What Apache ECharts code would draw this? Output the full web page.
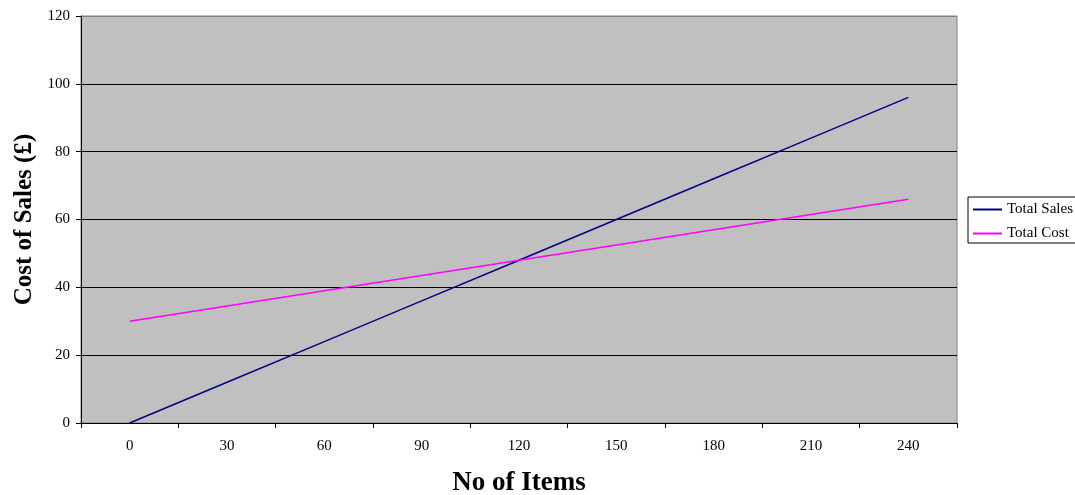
<!DOCTYPE html>
<html>
<head>
<meta charset="utf-8">
<script src="https://cdn.jsdelivr.net/npm/echarts@6/dist/echarts.min.js"></script>
<style>html,body{margin:0;padding:0;background:#fff}#c{width:1075px;height:495px}</style>
</head>
<body>
<div id="c"></div>
<script>
const items = ['0','30','60','90','120','150','180','210','240'];
const totalSales = [0,12,24,36,48,60,72,84,96];
const totalCost = [30,34.5,39,43.5,48,52.5,57,61.5,66];
const yTicks = [0,20,40,60,80,100,120];

const font = '"Liberation Serif","Times New Roman",serif';
const chart = echarts.init(document.getElementById('c'), null, {renderer:'canvas'});
chart.setOption({
  animation:false,
  backgroundColor:'#ffffff',
  grid:{left:81,right:118,top:16,bottom:72,containLabel:false,outerBoundsMode:'none',show:true,backgroundColor:'#c0c0c0',borderColor:'#808080',borderWidth:1},
  legend:{
    orient:'vertical', left:968, top:197,
    borderColor:'#000', borderWidth:1, padding:[5,20,2,5],
    itemWidth:29, itemHeight:2, itemGap:9,
    textStyle:{fontFamily:font,fontSize:15,color:'#000'},
    data:[{name:'Total Sales',icon:'rect'},{name:'Total Cost',icon:'rect'}]
  },
  xAxis:{
    type:'category', data:items, boundaryGap:true,
    name:'No of Items', nameLocation:'middle', nameGap:47,
    nameTextStyle:{fontFamily:font,fontSize:27,fontWeight:'bold',color:'#000'},
    axisLine:{lineStyle:{color:'#000',width:1}},
    axisTick:{show:true,interval:0,length:5,lineStyle:{color:'#000'}},
    axisLabel:{fontFamily:font,fontSize:15,color:'#000',margin:16,interval:0},
    splitLine:{show:false}
  },
  yAxis:{
    type:'value', min:0, max:120, interval:20,
    name:'Cost of Sales (£)', nameLocation:'middle', nameGap:38, nameRotate:90,
    nameTextStyle:{fontFamily:font,fontSize:25,fontWeight:'bold',color:'#000'},
    axisLine:{show:true,lineStyle:{color:'#000',width:1}},
    axisTick:{show:true,length:5,lineStyle:{color:'#000'}},
    axisLabel:{fontFamily:font,fontSize:15,color:'#000',margin:11,
      formatter:function(v){return yTicks.indexOf(v)>=0?String(v):'';}},
    splitLine:{show:true,lineStyle:{color:['#000','#000','#000','#000','#000','#000','#808080'],width:1}}
  },
  series:[
    {name:'Total Sales',type:'line',data:totalSales,symbol:'none',lineStyle:{color:'#000080',width:1.5},itemStyle:{color:'#000080'}},
    {name:'Total Cost',type:'line',data:totalCost,symbol:'none',lineStyle:{color:'#ff00ff',width:1.5},itemStyle:{color:'#ff00ff'}}
  ]
});
</script>
</body>
</html>
